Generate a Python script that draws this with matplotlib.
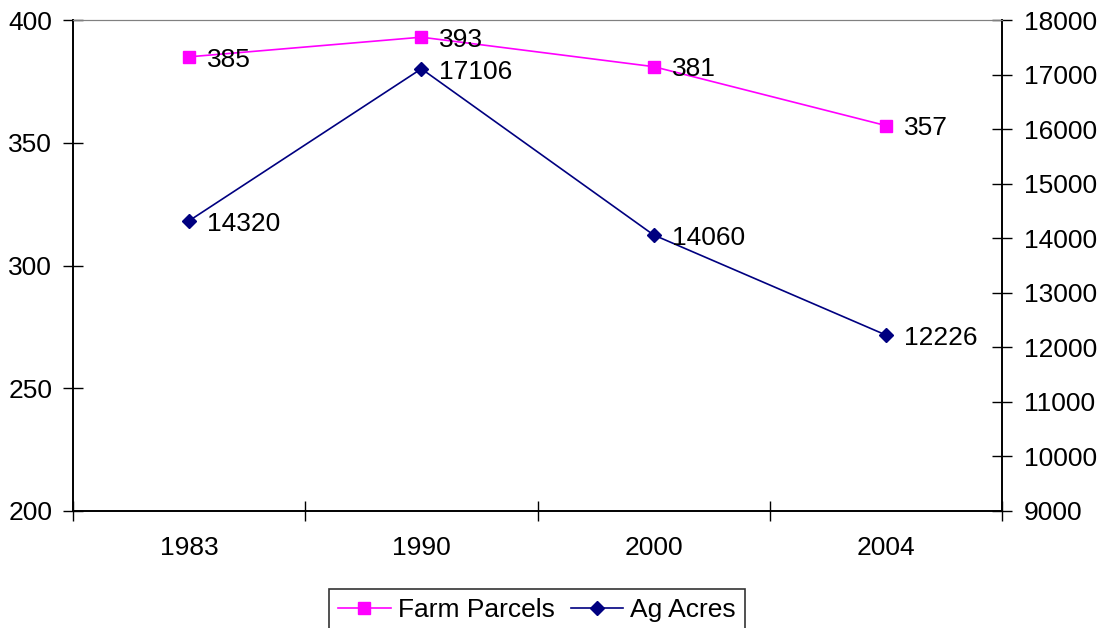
import matplotlib.pyplot as plt

plt.rcParams["font.family"] = ["Liberation Sans", "DejaVu Sans"]

years = ["1983", "1990", "2000", "2004"]
farm_parcels = [385, 393, 381, 357]
ag_acres = [14320, 17106, 14060, 12226]

PINK = "#FF00FF"
NAVY = "#000080"
FS = 19

fig = plt.figure(figsize=(11, 6.28), dpi=100)
ax = fig.add_axes([73 / 1100, 1 - 511 / 628, 929 / 1100, 491 / 628])
ax2 = ax.twinx()

x = list(range(len(years)))

ax.plot(x, farm_parcels, color=PINK, linewidth=1.2, marker="s",
        markersize=9, label="Farm Parcels", zorder=3)
ax2.plot(x, ag_acres, color=NAVY, linewidth=1.2, marker="D",
         markersize=7, label="Ag Acres", zorder=3)

# value labels just right of each point
for xi, v in zip(x, farm_parcels):
    ax.annotate(str(v), (xi, v), xytext=(13, -2), textcoords="offset points",
                ha="left", va="center", fontsize=FS)
for xi, v in zip(x, ag_acres):
    ax2.annotate(str(v), (xi, v), xytext=(13, -2), textcoords="offset points",
                 ha="left", va="center", fontsize=FS)

ax.set_xlim(-0.5, len(years) - 0.5)
ax.set_ylim(200, 400)
ax2.set_ylim(9000, 18000)

ax.set_yticks(range(200, 401, 50))
ax2.set_yticks(range(9000, 18001, 1000))

# category labels centred, tick marks between categories
ax.set_xticks(x)
ax.set_xticklabels(years, fontsize=FS)
ax.set_xticks([i - 0.5 for i in range(len(years) + 1)], minor=True)
ax.tick_params(axis="x", which="major", length=0, pad=18)
ax.tick_params(axis="x", which="minor", direction="inout", length=14, width=1)

ax.tick_params(axis="y", direction="inout", length=14, width=1,
               labelsize=FS, pad=8)
ax2.tick_params(axis="y", direction="inout", length=14, width=1,
                labelsize=FS, pad=9)

for a in (ax, ax2):
    a.spines["top"].set_color("#808080")
    a.spines["left"].set_color("black")
    a.spines["right"].set_color("black")
    a.spines["bottom"].set_color("black")
    a.spines["left"].set_linewidth(1.2)
    a.spines["right"].set_linewidth(1.2)
    a.spines["bottom"].set_linewidth(1.2)

h1, l1 = ax.get_legend_handles_labels()
h2, l2 = ax2.get_legend_handles_labels()
leg = fig.legend(h1 + h2, l1 + l2, loc="upper center",
                 bbox_to_anchor=(537 / 1100, 1 - 589 / 628), ncol=2,
                 fontsize=FS, frameon=True, fancybox=False, edgecolor="black",
                 handlelength=2.0, handletextpad=0.27, columnspacing=0.6,
                 borderpad=0.35, borderaxespad=0)
leg.get_frame().set_linewidth(1.2)

fig.savefig("out.png", dpi=100)
